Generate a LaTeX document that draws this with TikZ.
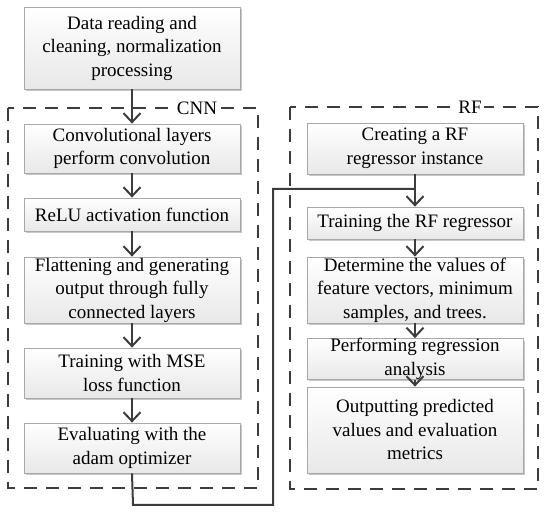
\documentclass[tikz,border=0pt]{standalone}
\usepackage{fontspec}
\setmainfont{Liberation Serif}
\usetikzlibrary{arrows.meta,shadows}
\definecolor{ln}{HTML}{3C3C3C}
\definecolor{bd}{HTML}{A8A8A8}
\begin{document}
\begin{tikzpicture}[x=1pt,y=-1pt,
  stepbox/.style={draw=bd, line width=0.8pt, top color=white, bottom color=black!9,
    drop shadow={shadow xshift=2pt, shadow yshift=-2pt, fill=black!22, opacity=1},
    minimum width=216pt, inner sep=0pt, align=center,
    font=\fontsize{19}{23.5}\selectfont},
  frame/.style={draw=ln, line width=2pt, dash pattern=on 13pt off 9pt},
  conn/.style={draw=ln, line width=2pt},
  arr/.style={conn, -{Straight Barb[length=9pt,width=17pt,line width=2pt]}},
  lbl/.style={fill=white, inner sep=2pt, font=\fontsize{19}{22}\selectfont}]
\useasboundingbox (0,0) rectangle (550,513);
% frames
\draw[frame] (8,108) rectangle (258,488);
\draw[frame] (290,107) rectangle (538,489);
\node[lbl] (cnnl) at (197,108) {CNN};
\node[lbl] (rfl) at (470,107) {RF};
% CNN column
\node[stepbox, minimum height=82pt] (d0) at (132,48) {Data reading and\\cleaning, normalization\\processing};
\node[stepbox, minimum height=49pt] (c1) at (132,148.5) {Convolutional layers\\perform convolution};
\node[stepbox, minimum height=33pt] (c2) at (132,214.5) {ReLU activation function};
\node[stepbox, minimum height=66pt] (c3) at (132,290) {Flattening and generating\\output through fully\\connected layers};
\node[stepbox, minimum height=50pt] (c4) at (132,373) {Training with MSE\\loss function};
\node[stepbox, minimum height=50pt] (c5) at (132,448) {Evaluating with the\\adam optimizer};
% RF column
\node[stepbox, minimum height=51pt] (r1) at (415,148.5) {Creating a RF\\regressor instance};
\node[stepbox, minimum height=32pt] (r2) at (415,223) {Training the RF regressor};
\node[stepbox, minimum height=66pt] (r3) at (415,290) {Determine the values of\\feature vectors, minimum\\samples, and trees.};
\node[stepbox, minimum height=40pt] (r4) at (415,359) {Performing regression\\analysis};
\node[stepbox, minimum height=86pt] (r5) at (415,430) {Outputting predicted\\values and evaluation\\metrics};
% arrows
\draw[arr] (d0) -- (c1);
\draw[arr] (c1) -- (c2);
\draw[arr] (c2) -- (c3);
\draw[arr] (c3) -- (c4);
\draw[arr] (c4) -- (c5);
\draw[arr] (r1) -- (r2);
\draw[arr] (r2) -- (r3);
\draw[arr] (r3) -- (r4);
\draw[arr] (r4) -- (r5);
% cross connector
\coordinate (b1) at (133,505);
\coordinate (b2) at (273,505);
\coordinate (b3) at (273,189);
\coordinate (j) at (415,189);
\draw[conn] (c5.south) -- (b1) -- (b2) -- (b3) -- (j);
\end{tikzpicture}
\end{document}
